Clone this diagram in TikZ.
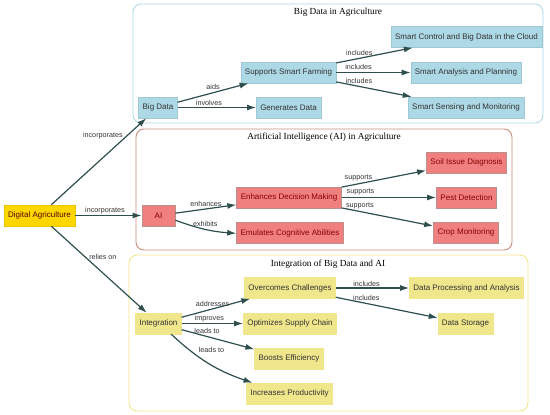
\documentclass[tikz,border=0pt]{standalone}
\usepackage{fontspec}
\setmainfont{Liberation Sans}
\newfontfamily\titlefont{Liberation Serif}
\usetikzlibrary{arrows.meta}
\definecolor{edgegray}{HTML}{2F4F4F}
\definecolor{bdblue}{HTML}{ADD8E6}
\definecolor{aired}{HTML}{F08080}
\definecolor{aiedge}{HTML}{BC8F8F}
\definecolor{inkhaki}{HTML}{F0E68C}
\definecolor{rootgold}{HTML}{FFD700}
\definecolor{clred}{HTML}{CD8C7C}
\definecolor{textdark}{HTML}{333333}
\definecolor{textred}{HTML}{8B0000}

\begin{document}
\begin{tikzpicture}[x=1pt, y=-1pt,
		>={Latex[length=9pt,width=6pt]},   %Pfeilspitzen
		box/.style={rectangle, minimum height=21pt, minimum width=33pt, inner xsep=4pt, font=\fontsize{8}{9}\selectfont},
		bdbox/.style={box, fill=bdblue, draw=bdblue!92!black, text=textdark},
		aibox/.style={box, fill=aired, draw=aiedge, line width=0.8pt, text=textred},
		inbox/.style={box, fill=inkhaki, draw=inkhaki, text=textdark},
		rootbox/.style={box, fill=rootgold, draw=rootgold!92!black, text=textred!60!black},
		cluster/.style={rounded corners=8pt, line width=0.9pt},
		title/.style={font=\titlefont\fontsize{9.3}{10}\selectfont, text=black},
		rel/.style={->, draw=edgegray, line width=1.2pt},
		lbl/.style={font=\fontsize{7.2}{8}\selectfont, text=textdark, inner sep=1pt}]
	%Bildbereich
	\useasboundingbox (0,0) rectangle (550,415);
	% Cluster zeichnen
	\draw[cluster, draw=bdblue] (133,4) rectangle (543,123);
	\draw[cluster, draw=clred] (136,129) rectangle (512,250);
	\draw[cluster, draw=inkhaki] (129,255) rectangle (528,411);
	\node[title] (tbd) at (338,12) {Big Data in Agriculture};
	\node[title] (tai) at (324,137) {Artificial Intelligence (AI) in Agriculture};
	\node[title] (tin) at (328,264) {Integration of Big Data and AI};
	% Knoten
	\node[rootbox] (digag) at (39.5,215.5) {Digital Agriculture};
	\node[bdbox] (bigdata) at (158,107.5) {Big Data};
	\node[bdbox] (smartfarm) at (288.5,72.5) {Supports Smart Farming};
	\node[bdbox] (gendata) at (288.5,107.5) {Generates Data};
	\node[bdbox] (cloud) at (466.5,37) {Smart Control and Big Data in the Cloud};
	\node[bdbox] (analysis) at (466,72.5) {Smart Analysis and Planning};
	\node[bdbox] (sensing) at (466,107.5) {Smart Sensing and Monitoring};
	\node[aibox] (ai) at (158.5,215.5) {AI};
	\node[aibox] (decision) at (289,197.5) {Enhances Decision Making};
	\node[aibox] (cognitive) at (290,233) {Emulates Cognitive Abilities};
	\node[aibox] (soil) at (466.5,162.5) {Soil Issue Diagnosis};
	\node[aibox] (pest) at (466.5,197.5) {Pest Detection};
	\node[aibox] (crop) at (466,232.5) {Crop Monitoring};
	\node[inbox] (integ) at (158.5,323.5) {Integration};
	\node[inbox] (challenges) at (290,288) {Overcomes Challenges};
	\node[inbox] (supply) at (290,323.5) {Optimizes Supply Chain};
	\node[inbox] (efficiency) at (289,358.5) {Boosts Efficiency};
	\node[inbox] (productivity) at (289.5,393.5) {Increases Productivity};
	\node[inbox] (processing) at (466.5,288) {Data Processing and Analysis};
	\node[inbox] (storage) at (465.5,323.5) {Data Storage};
	% Kanten
	\draw[rel] (digag) -- node[lbl, pos=0.8, left=3pt] {incorporates} (bigdata);
	\draw[rel] (digag) -- node[lbl, pos=0.45, above] {incorporates} (ai);
	\draw[rel] (digag) -- node[lbl, pos=0.35, right=3pt] {relies on} (integ);
	\draw[rel] (bigdata) -- node[lbl, pos=0.5, above=2pt] {aids} (smartfarm);
	\draw[rel] (bigdata) -- node[lbl, pos=0.4, above] {involves} (gendata);
	\foreach \t in {cloud, analysis, sensing}
		\draw[rel] (smartfarm) -- node[lbl, pos=0.3, above=1pt] {includes} (\t);
	\draw[rel] (ai) -- node[lbl, pos=0.5, above=1pt] {enhances} (decision);
	\draw[rel] (ai) to[bend right=8] node[lbl, pos=0.5, above=1pt] {exhibits} (cognitive);
	\foreach \t in {soil, pest, crop}
		\draw[rel] (decision) -- node[lbl, pos=0.2, above=1pt] {supports} (\t);
	\draw[rel] (integ) -- node[lbl, pos=0.45, above=1pt] {addresses} (challenges);
	\draw[rel] (integ) -- node[lbl, pos=0.45, above] {improves} (supply);
	\draw[rel] (integ) -- node[lbl, pos=0.35, above=1pt] {leads to} (efficiency);
	\draw[rel] (integ) to[bend right=12] node[lbl, pos=0.33, above right=1pt] {leads to} (productivity);
	\draw[rel] (challenges) -- node[lbl, pos=0.42, above] {includes} (processing);
	\draw[rel] (challenges) -- node[lbl, pos=0.3, above=1pt] {includes} (storage);
\end{tikzpicture}
\end{document}
